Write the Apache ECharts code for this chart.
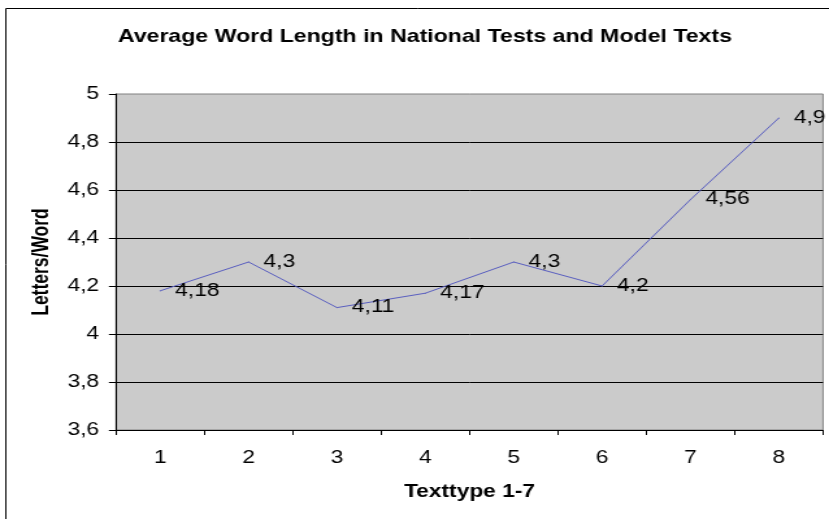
<!DOCTYPE html>
<html><head><meta charset="utf-8">
<script src="https://cdn.jsdelivr.net/npm/echarts@6/dist/echarts.min.js"></script>
<style>
html,body{margin:0;padding:0;background:#fff;overflow:hidden;width:829px;height:519px}
#c{width:638px;height:519px;transform:scaleX(1.29937);transform-origin:0 0;}
</style>
</head><body><div id="c"></div>
<script>
const titleText = 'Average Word Length in National Tests and Model Texts';
const xAxisName = 'Texttype 1-7';
const yAxisName = 'Letters/Word';
const categories = ['1', '2', '3', '4', '5', '6', '7', '8'];
const values = [4.18, 4.3, 4.11, 4.17, 4.3, 4.2, 4.56, 4.9];
const yMin = 3.6, yMax = 5, yStep = 0.2;

const FONT = "'Liberation Sans', Arial, sans-serif";
const fmt = v => String(+(+v).toFixed(2)).replace('.', ',');

const chart = echarts.init(document.getElementById('c'), null, {renderer: 'canvas'});
chart.setOption({
  animation: false,
  backgroundColor: '#ffffff',
  title: {
    text: titleText,
    left: 327, top: 28, textAlign: 'center', padding: 0,
    textStyle: {fontFamily: FONT, fontSize: 17.8, fontWeight: 'bold', color: '#000'}
  },
  graphic: [{
    type: 'rect', silent: true, z: 0,
    shape: {x: 4.5, y: 8.5, width: 1000, height: 1000},
    style: {fill: 'none', stroke: '#000', lineWidth: 1}
  }],
  grid: {
    left: 89.3, right: 4.6, top: 94, bottom: 89,
    show: true, backgroundColor: '#cbcbcb', borderColor: '#808080', borderWidth: 1
  },
  xAxis: {
    type: 'category', data: categories, boundaryGap: true,
    name: xAxisName, nameLocation: 'middle', nameGap: 53,
    nameTextStyle: {fontFamily: FONT, fontSize: 17.5, fontWeight: 'bold', color: '#000'},
    axisLine: {show: true, lineStyle: {color: '#000', width: 1}},
    axisTick: {show: true, length: 5, lineStyle: {color: '#000'}},
    axisLabel: {fontFamily: FONT, fontSize: 17.5, color: '#000', margin: 19},
    splitLine: {show: false}
  },
  yAxis: {
    type: 'value', min: yMin, max: yMax, interval: yStep,
    name: yAxisName, nameLocation: 'middle', nameGap: 45, nameRotate: 90,
    nameTextStyle: {fontFamily: FONT, fontSize: 17.5, fontWeight: 'bold', color: '#000'},
    axisLine: {show: true, lineStyle: {color: '#000', width: 1}},
    axisTick: {show: true, length: 5.5, lineStyle: {color: '#000'}},
    axisLabel: {fontFamily: FONT, fontSize: 17.5, color: '#000', margin: 13, formatter: v => fmt(v)},
    splitLine: {show: true, showMaxLine: false, lineStyle: {color: '#000', width: 1}}
  },
  series: [{
    type: 'line', data: values,
    showSymbol: true, symbol: 'circle', symbolSize: 1,
    itemStyle: {color: '#5a5fc0'},
    lineStyle: {color: '#5a5fc0', width: 1},
    label: {
      show: true, position: 'right', distance: 11,
      fontFamily: FONT, fontSize: 17.5, color: '#000',
      formatter: p => fmt(p.value)
    },
    emphasis: {disabled: true}
  }]
});
</script>
</body></html>
